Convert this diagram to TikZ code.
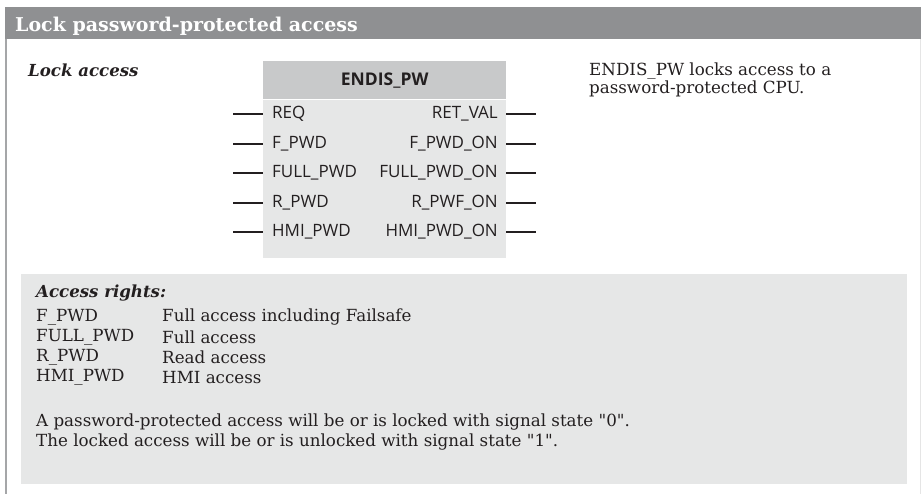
\documentclass[tikz,border=0pt]{standalone}
\usepackage{fontspec}
\setmainfont{DejaVu Serif}
\setsansfont{Open Sans}
\usetikzlibrary{positioning}
\definecolor{endisHead}{RGB}{143,144,146}
\definecolor{endisBlock}{RGB}{200,201,202}
\definecolor{endisBody}{RGB}{230,231,231}
\definecolor{endisInk}{RGB}{35,31,32}
\definecolor{endisFrame}{RGB}{165,166,168}

\begin{document}
\begin{tikzpicture}[x=1pt, y=-1pt,
      title/.style={font=\fontsize{19}{22}\selectfont\bfseries, text=white, inner sep=0pt},
      caption/.style={font=\fontsize{16.6}{20}\selectfont\bfseries\itshape, text=endisInk, inner sep=0pt},
      prose/.style={font=\fontsize{16.7}{18}\selectfont, text=endisInk, inner sep=0pt, align=left},
      pinlabel/.style={font=\sffamily\fontsize{17}{18}\selectfont, text=endisInk, inner sep=0pt},
      pinline/.style={line width=2pt, draw=endisInk}
    ]
    \useasboundingbox (0,0) rectangle (921,494);
    % frame and heading
    \fill[endisHead] (5,7) rectangle (921,39);
    \draw[endisFrame, line width=1.2pt] (6,39) -- (6,494);
    \draw[black!10] (920,39) -- (920,494);
    \node[title, anchor=base west] (head) at (15,32) {Lock password-protected access};
    \node[caption, anchor=west] (lock) at (28,70) {Lock access};

    % function block
    \node[fill=endisBlock, minimum width=243pt, minimum height=38pt, inner sep=0pt, anchor=north west,
      font=\sffamily\bfseries\fontsize{17.5}{20}\selectfont, text=endisInk] (fbhead) at (263,61) {ENDIS\_PW};
    \node[fill=endisBody, minimum width=243pt, minimum height=158pt, inner sep=0pt, anchor=north,
      below=0pt of fbhead] (fbbody) {};
    \foreach \inpin/\outpin/\y [count=\i] in {REQ/RET\_VAL/114, F\_PWD/F\_PWD\_ON/144, FULL\_PWD/FULL\_PWD\_ON/173,
        R\_PWD/R\_PWF\_ON/203, HMI\_PWD/HMI\_PWD\_ON/232} {
      \node[pinlabel, anchor=west] (in\i) at (272,\y) {\inpin};
      \node[pinlabel, anchor=east] (out\i) at (498,\y) {\outpin};
      \coordinate (inend\i) at (233,\y);
      \coordinate (outend\i) at (536,\y);
      \draw[pinline] (inend\i) -- (fbbody.west |- inend\i);
      \draw[pinline] (fbbody.east |- outend\i) -- (outend\i);
    }
    \node[prose, anchor=north west] (info) at (589,63) {ENDIS\_PW locks access to a\\password-protected CPU.};

    % access rights
    \fill[endisBody] (21,274) rectangle (907,484);
    \node[caption, anchor=west] (rights) at (36,293) {Access rights:};
    \foreach \pwd/\what [count=\i] in {F\_PWD/Full access including Failsafe, FULL\_PWD/Full access,
        R\_PWD/Read access, HMI\_PWD/HMI access} {
      \node[prose, anchor=west] (pwd\i) at (36,297+20.2*\i) {\pwd};
      \node[prose, anchor=west] (what\i) at (162,297+20.2*\i) {\what};
    }
    \node[prose, anchor=west] (state0) at (36,422) {A password-protected access will be or is locked with signal state \textquotedbl 0\textquotedbl.};
    \node[prose, anchor=west] (state1) at (36,442) {The locked access will be or is unlocked with signal state \textquotedbl 1\textquotedbl.};
  \end{tikzpicture}
\end{document}
